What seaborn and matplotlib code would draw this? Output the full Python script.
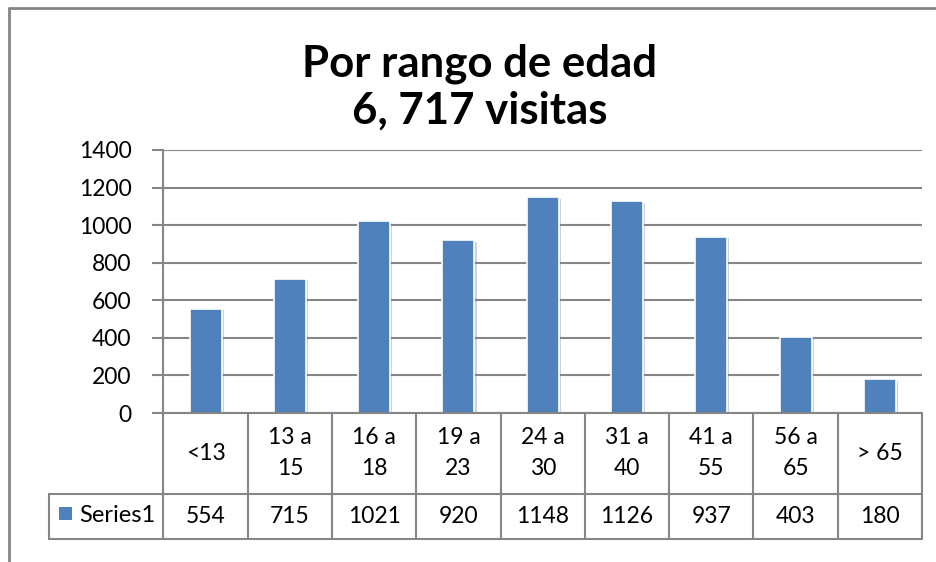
import matplotlib
matplotlib.use("Agg")
import matplotlib.pyplot as plt
import matplotlib.patheffects as pe
from matplotlib.transforms import blended_transform_factory
from matplotlib.lines import Line2D
from matplotlib.patches import Rectangle
import seaborn as sns
import pandas as pd

categories = ["<13", "13 a\n15", "16 a\n18", "19 a\n23", "24 a\n30", "31 a\n40", "41 a\n55", "56 a\n65", "> 65"]
values = [554, 715, 1021, 920, 1148, 1126, 937, 403, 180]
series_name = "Series1"
title = "Por rango de edad\n6, 717 visitas"
yticks = [0, 200, 400, 600, 800, 1000, 1200, 1400]

sns.set_theme(style="white")
plt.rcParams["font.family"] = ["Lato", "DejaVu Sans"]

W, H = 937, 562
fig = plt.figure(figsize=(W / 100, H / 100), dpi=100)
BAR = "#4F81BD"
GRID = "#868686"
FS = 16.5

def fx(px):
    return px / W

def fy(py):
    return 1 - py / H

ax_l, ax_r, ax_t, ax_b = 163.5, 922, 150, 413
ax = fig.add_axes([fx(ax_l), fy(ax_b), fx(ax_r) - fx(ax_l), fy(ax_t) - fy(ax_b)])

df = pd.DataFrame({"cat": categories, "val": values})
sns.barplot(data=df, x="cat", y="val", color=BAR, saturation=1, width=0.38,
            edgecolor="white", linewidth=1.2, ax=ax, zorder=3)
for p in ax.patches:
    p.set_path_effects([pe.SimplePatchShadow(offset=(1.5, -1), shadow_rgbFace="#7f7f7f", alpha=0.35),
                        pe.Normal()])

ax.set_xlim(-0.5, len(categories) - 0.5)
ax.set_ylim(0, 1400)
ax.set_yticks(yticks)
ax.set_yticklabels([str(v) for v in yticks], fontsize=FS, color="black")
ax.set_xticks([])
ax.set_xlabel("")
ax.set_ylabel("")
ax.yaxis.grid(True, color=GRID, linewidth=1.5)
ax.set_axisbelow(True)
for s in ["top", "right", "bottom"]:
    ax.spines[s].set_visible(False)
ax.spines["left"].set_color(GRID)
ax.spines["left"].set_linewidth(1.5)
ax.tick_params(axis="y", length=8, width=1.5, color=GRID, pad=15, left=True)

# data table below the axes
tr = blended_transform_factory(ax.transData, fig.transFigure)
row1_top, row1_bot, row2_bot = 413, 494, 538.5
n = len(categories)
lw = 1.5
for i in range(n + 1):
    x = i - 0.5
    ax.add_line(Line2D([x, x], [fy(row1_top), fy(row2_bot)], transform=tr, color=GRID,
                       linewidth=lw, clip_on=False))
for y in [row1_bot, row2_bot]:
    fig.add_artist(Line2D([fx(49), fx(ax_r)], [fy(y), fy(y)], color=GRID, linewidth=lw))
fig.add_artist(Line2D([fx(ax_l - 1), fx(ax_r)], [fy(row1_top), fy(row1_top)], color=GRID, linewidth=lw))
fig.add_artist(Line2D([fx(49), fx(49)], [fy(row1_bot), fy(row2_bot)], color=GRID, linewidth=lw))

for i, (c, v) in enumerate(zip(categories, values)):
    ax.text(i, fy(453), c, transform=tr, ha="center", va="center",
            fontsize=FS, linespacing=1.55, color="black")
    ax.text(i, fy(516.5), str(v), transform=tr, ha="center", va="center",
            fontsize=FS, color="black")

fig.add_artist(Rectangle((fx(59), fy(520)), fx(13), fy(507) - fy(520), transform=fig.transFigure,
                         facecolor=BAR, edgecolor="none"))
fig.text(fx(79), fy(516), series_name, ha="left", va="center", fontsize=FS + 0.5, color="black")

# title
fig.text(fx(480), fy(87), title, ha="center", va="center", fontsize=31.5, fontweight="bold",
         linespacing=1.2, color="black")

# outer chart border
fig.add_artist(Line2D([fx(9.5), fx(9.5)], [fy(8), fy(562)], color=GRID, linewidth=2))
fig.add_artist(Line2D([fx(9.5), fx(937)], [fy(8), fy(8)], color=GRID, linewidth=2))

fig.savefig("out.png", dpi=100, facecolor="white")
